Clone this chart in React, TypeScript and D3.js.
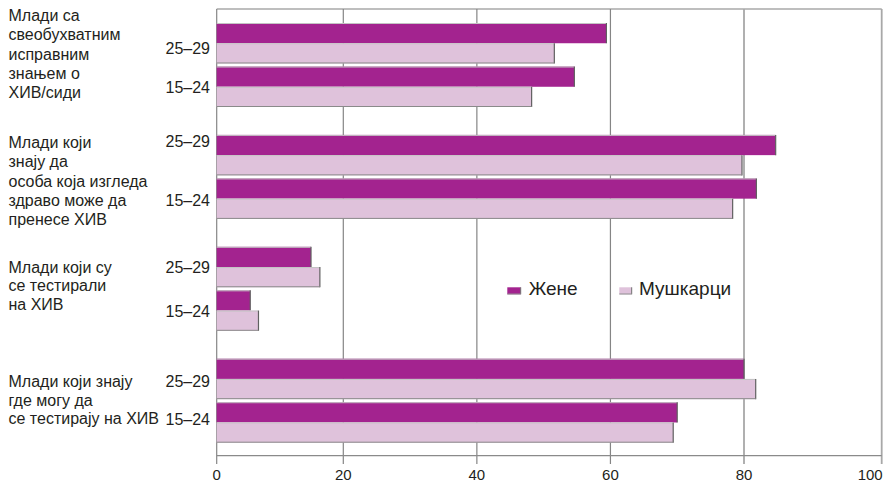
import React from "react";
import * as d3 from "d3";

const categories = [
  "Млади са свеобухватним исправним знањем о ХИВ/сиди",
  "Млади који знају да особа која изгледа здраво може да пренесе ХИВ",
  "Млади који су се тестирали на ХИВ",
  "Млади који знају где могу да се тестирају на ХИВ",
];
const categoryLines = [
  ["Млади са", "свеобухватним", "исправним", "знањем о", "ХИВ/сиди"],
  ["Млади који", "знају да", "особа која изгледа", "здраво може да", "пренесе ХИВ"],
  ["Млади који су", "се тестирали", "на ХИВ"],
  ["Млади који знају", "где могу да", "се тестирају на ХИВ"],
];
const ageGroups = ["25–29", "15–24"];
const seriesNames = ["Жене", "Мушкарци"];
// values[category][ageGroup]
const zene = [
  [59.4, 54.6],
  [84.6, 81.8],
  [14.9, 5.3],
  [80.0, 70.0],
];
const muskarci = [
  [51.6, 48.2],
  [79.7, 78.3],
  [16.3, 6.6],
  [81.7, 69.4],
];
const xTicks = [0, 20, 40, 60, 80, 100];

// layout (not data)
const W = 884;
const H = 483;
const colors = ["#a3238f", "#dfc2db"];
const labelFirstBaseline = [11.7, 27.0, 40.0, 42.6];
const labelLineHeight = [19.4, 19.35, 18.5, 18.5];
const ageNudge = [
  [5, 0],
  [-14, 1],
  [0, 0],
  [2, -3],
];
const FONT = "'Liberation Sans', Arial, Helvetica, sans-serif";
const TEXT = "#231f20";

export default function App() {
  const top = 9;
  const bottom = 455.7;
  // piecewise scale reproducing the reference's uneven axis
  const x = d3.scaleLinear().domain([0, 20, 80, 100]).range([216.7, 343.3, 744, 881.7]);
  const y = d3.scaleBand<string>().domain(categories).range([top, top + 4 * 111.9]);
  const yAge = d3.scaleBand<string>().domain(ageGroups).range([14, 98]).paddingInner(0.07);
  const yS = d3.scaleBand<string>().domain(seriesNames).range([0, yAge.bandwidth()]);
  const series = [zene, muskarci];

  return (
    <svg
      width={W}
      height={H}
      style={{ position: "absolute", left: 0, top: 0, background: "#fff" }}
      fontFamily={FONT}
    >
      {/* top border */}
      <line x1={x(0)} x2={x(100)} y1={top} y2={top} stroke="#a8a8a8" strokeWidth={1.5} />
      {/* gridlines */}
      {xTicks.map((t) => (
        <line
          key={"g" + t}
          x1={x(t)}
          x2={x(t)}
          y1={top}
          y2={bottom + 8.3}
          stroke={t >= 80 ? "#a8a8a8" : "#858585"}
          strokeWidth={t >= 80 ? 1.8 : 1.2}
        />
      ))}
      {/* bottom axis */}
      <line x1={x(0)} x2={x(100)} y1={bottom} y2={bottom} stroke="#8a8a8a" strokeWidth={1.2} />
      {xTicks.map((t) => (
        <text
          key={"t" + t}
          x={t === 100 ? x(t) + 1 : x(t)}
          y={480}
          fontSize={15}
          fill={TEXT}
          textAnchor={t === 100 ? "end" : "middle"}
        >
          {t}
        </text>
      ))}

      {/* bars */}
      {categories.map((c, ci) =>
        ageGroups.map((a, ai) =>
          seriesNames.map((s, si) => {
            const v = series[si][ci][ai];
            const y0 = (y(c) as number) + (yAge(a) as number) + (yS(s) as number);
            const h = yS.bandwidth();
            const x0 = x(0);
            const x1 = x(v);
            return (
              <g key={`${ci}-${ai}-${si}`}>
                <rect x={x0} y={y0} width={x1 - x0} height={h} fill={colors[si]} />
                <line x1={x0} x2={x1} y1={y0 + 0.5} y2={y0 + 0.5} stroke="#c4c4c4" strokeWidth={1} />
                <line x1={x1} x2={x1} y1={y0} y2={y0 + h} stroke="#606060" strokeWidth={1.2} />
                {si === 1 && (
                  <line x1={x0} x2={x1} y1={y0 + h - 0.5} y2={y0 + h - 0.5} stroke="#8a8a8a" strokeWidth={1} />
                )}
              </g>
            );
          })
        )
      )}

      {/* category labels */}
      {categories.map((c, ci) =>
        categoryLines[ci].map((ln, li) => {
          const by = (y(c) as number) + labelFirstBaseline[ci] + li * labelLineHeight[ci];
          return (
            <text key={`cl-${ci}-${li}`} x={8.5} y={by} fontSize={16} fill={TEXT}>
              {ln}
            </text>
          );
        })
      )}

      {/* age labels */}
      {categories.map((c, ci) =>
        ageGroups.map((a, ai) => {
          const cy = (y(c) as number) + (yAge(a) as number) + yAge.bandwidth() / 2 + ageNudge[ci][ai];
          return (
            <text
              key={`al-${ci}-${ai}`}
              x={210}
              y={cy + 6}
              fontSize={16}
              fill={TEXT}
              textAnchor="end"
            >
              {a}
            </text>
          );
        })
      )}

      {/* legend */}
      {seriesNames.map((s, si) => {
        const lx = si === 0 ? 507.3 : 619.3;
        const lw = si === 0 ? 13.4 : 12.4;
        return (
          <g key={"lg" + s}>
            <rect x={lx} y={287.3} width={lw} height={7} fill={colors[si]} />
            <line x1={lx + lw} x2={lx + lw} y1={287.3} y2={294.3} stroke="#707070" strokeWidth={1} />
            <line x1={lx} x2={lx + lw} y1={294} y2={294} stroke="#909090" strokeWidth={1} />
            <text x={si === 0 ? 528.7 : 639} y={295.3} fontSize={19} fill={TEXT}>
              {s}
            </text>
          </g>
        );
      })}
    </svg>
  );
}
